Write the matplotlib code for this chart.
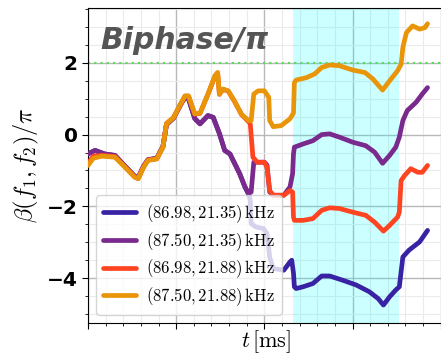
import matplotlib
matplotlib.use('Agg')
import matplotlib.pyplot as plt
from matplotlib.ticker import MultipleLocator

plt.rcParams['mathtext.fontset'] = 'cm'

# time axis (arbitrary ms units, no tick labels in the original)
t_orange = [0.00, 0.06, 0.155, 0.306, 0.42, 0.53, 0.57, 0.63, 0.68, 0.78, 0.85, 0.89, 0.97,
            1.06, 1.10, 1.14, 1.21, 1.27, 1.36, 1.44, 1.47, 1.49, 1.53, 1.59, 1.66, 1.74,
            1.82, 1.85, 1.88, 1.93, 2.00, 2.05, 2.06, 2.10, 2.19, 2.29, 2.33, 2.34, 2.36,
            2.48, 2.57, 2.65, 2.74, 2.85, 3.00, 3.14, 3.23, 3.34, 3.42, 3.51, 3.55, 3.57,
            3.61, 3.68, 3.76, 3.82, 3.85]
b_orange = [-0.86, -0.66, -0.60, -0.63, -0.91, -1.19, -1.23, -0.91, -0.72, -0.68, -0.35, 0.30, 0.48,
            0.90, 1.08, 1.08, 0.58, 0.60, 1.13, 1.64, 1.73, 1.13, 1.27, 1.22, 0.94, 0.57,
            0.39, 0.39, 1.13, 1.22, 1.22, 1.04, 0.39, 0.22, 0.25, 0.44, 0.60, 1.45, 1.52,
            1.59, 1.69, 1.87, 1.94, 1.92, 1.80, 1.73, 1.55, 1.24, 1.50, 1.78, 1.96, 2.43,
            2.84, 3.03, 2.94, 2.98, 3.09]

t_purple = [0.00, 0.08, 0.19, 0.306, 0.42, 0.53, 0.57, 0.63, 0.68, 0.78, 0.85, 0.89, 0.97,
            1.06, 1.10, 1.14, 1.21, 1.27, 1.36, 1.42, 1.49, 1.55, 1.61, 1.72, 1.78, 1.82,
            1.85, 1.88, 2.00, 2.03, 2.06, 2.10, 2.22, 2.29, 2.32, 2.33, 2.34, 2.44, 2.55,
            2.65, 2.74, 2.85, 3.00, 3.15, 3.25, 3.34, 3.42, 3.49, 3.53, 3.57, 3.62, 3.72,
            3.79, 3.85]
b_purple = [-0.54, -0.44, -0.54, -0.58, -0.88, -1.16, -1.20, -0.88, -0.70, -0.66, -0.33, 0.28, 0.46,
            0.88, 1.03, 1.00, 0.45, 0.30, 0.53, 0.48, 0.03, -0.44, -0.54, -1.09, -1.46, -1.65,
            -1.60, -0.77, -0.77, -0.85, -1.60, -1.69, -1.69, -1.46, -1.09, -0.54, -0.35, -0.26, -0.17,
            0.00, 0.02, -0.07, -0.21, -0.31, -0.49, -0.80, -0.58, -0.35, -0.07, 0.39, 0.67, 0.90,
            1.13, 1.31]

t_red = [0.00, 0.06, 0.155, 0.306, 0.42, 0.53, 0.57, 0.63, 0.68, 0.78, 0.85, 0.89, 0.97,
         1.06, 1.10, 1.14, 1.21, 1.27, 1.36, 1.44, 1.47, 1.49, 1.53, 1.59, 1.66, 1.74,
         1.82, 1.84, 1.87, 1.92, 2.00, 2.03, 2.06, 2.10, 2.22, 2.29, 2.32, 2.33, 2.34,
         2.44, 2.55, 2.65, 2.74, 2.85, 3.00, 3.15, 3.25, 3.35, 3.42, 3.51, 3.53, 3.55,
         3.59, 3.66, 3.74, 3.79, 3.85]
b_red = [-0.80, -0.60, -0.58, -0.61, -0.90, -1.18, -1.22, -0.90, -0.71, -0.67, -0.34, 0.31, 0.47,
         0.89, 1.07, 1.07, 0.57, 0.59, 1.12, 1.63, 1.72, 1.12, 1.26, 1.21, 0.93, 0.56,
         0.36, 0.30, -0.63, -0.77, -0.77, -0.91, -1.56, -1.69, -1.69, -1.56, -1.60, -2.30, -2.39,
         -2.39, -2.34, -2.11, -2.04, -2.06, -2.16, -2.25, -2.44, -2.69, -2.53, -2.30, -2.16, -1.28,
         -1.14, -0.95, -1.05, -1.05, -0.86]

t_blue = [0.00, 0.08, 0.19, 0.306, 0.42, 0.53, 0.57, 0.63, 0.68, 0.78, 0.85, 0.89, 0.97,
          1.06, 1.10, 1.14, 1.21, 1.27, 1.36, 1.42, 1.49, 1.55, 1.61, 1.72, 1.78, 1.82,
          1.84, 1.85, 1.90, 1.99, 2.03, 2.06, 2.10, 2.22, 2.29, 2.31, 2.33, 2.34, 2.36,
          2.44, 2.55, 2.65, 2.74, 2.89, 3.04, 3.19, 3.29, 3.35, 3.42, 3.49, 3.53, 3.57,
          3.64, 3.76, 3.85]
b_blue = [-0.54, -0.44, -0.54, -0.58, -0.88, -1.16, -1.20, -0.88, -0.70, -0.66, -0.33, 0.28, 0.46,
          0.88, 1.03, 1.00, 0.45, 0.30, 0.53, 0.48, 0.03, -0.44, -0.54, -1.09, -1.46, -1.65,
          -1.83, -2.48, -2.57, -2.62, -2.76, -3.41, -3.73, -3.78, -3.55, -3.50, -3.86, -4.24, -4.29,
          -4.24, -4.15, -3.94, -3.94, -4.06, -4.19, -4.38, -4.57, -4.75, -4.52, -4.33, -4.24, -3.41,
          -3.22, -2.99, -2.67]

labels = [r'$(86.98, 21.35)\,\mathrm{kHz}$', r'$(87.50, 21.35)\,\mathrm{kHz}$',
          r'$(86.98, 21.88)\,\mathrm{kHz}$', r'$(87.50, 21.88)\,\mathrm{kHz}$']
colors = ['#3a22a5', '#7a2a8c', '#ff4422', '#e8950a']

span = (2.33, 3.53)   # shaded window
ref_level = 2

fig = plt.figure(figsize=(4.41, 3.54), dpi=100)
ax = fig.add_axes([0.1995, 0.0876, 0.81, 0.890])

ax.axvspan(*span, color='cyan', alpha=0.2, lw=0, zorder=1)
ax.axhline(ref_level, color='#55dd55', ls=(0, (1, 2)), lw=1.5, zorder=2)

series = [(t_blue, b_blue), (t_purple, b_purple), (t_red, b_red), (t_orange, b_orange)]
for (t, b), c, lab in zip(series, colors, labels):
    ax.plot(t, b, color=c, lw=3.4, label=lab, solid_joinstyle='round',
            solid_capstyle='round', zorder=3)

ax.set_xlim(0, 4.05)
ax.set_ylim(-5.25, 3.53)
ax.xaxis.set_major_locator(MultipleLocator(1))
ax.xaxis.set_minor_locator(MultipleLocator(0.2))
ax.yaxis.set_major_locator(MultipleLocator(2))
ax.yaxis.set_minor_locator(MultipleLocator(0.5))
ax.grid(which='major', color='#b8b8b8', lw=1.0, zorder=0)
ax.grid(which='minor', color='#ebebeb', lw=0.8, zorder=0)
ax.set_axisbelow(True)
ax.set_xticklabels([])
ax.tick_params(axis='both', which='major', length=4)
ax.tick_params(axis='both', which='minor', length=2)
for lab in ax.get_yticklabels():
    lab.set_fontweight('bold')
    lab.set_fontsize(14.5)

ax.set_ylabel(r'$\beta(f_1, f_2)/\pi$', fontsize=17.5, labelpad=4)
ax.set_xlabel(r'$t\,[\mathrm{ms}]$', fontsize=16, labelpad=-3.5)

ax.text(0.14, 2.62, 'Biphase/π', fontsize=21.5, fontweight='bold', style='italic',
        color='#555555', va='center', ha='left')

ax.legend(loc='lower left', fontsize=12, handlelength=2.0, borderaxespad=0.5,
          labelspacing=0.3, handletextpad=0.6)

plt.savefig('out.png', dpi=100)
